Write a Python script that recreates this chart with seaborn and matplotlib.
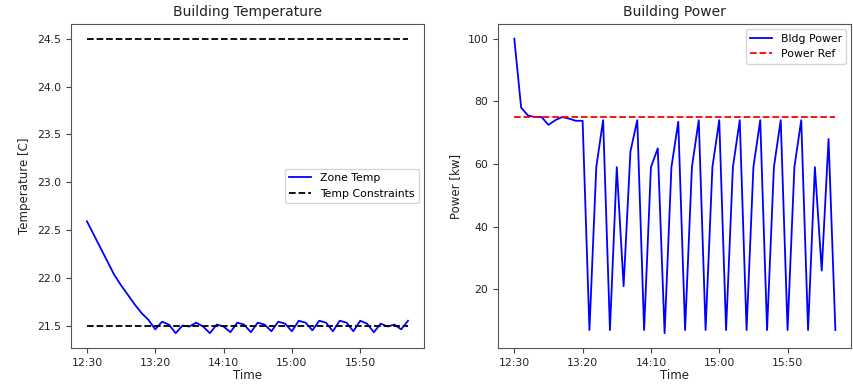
import numpy as np
import pandas as pd
import matplotlib
matplotlib.use('Agg')
import matplotlib.pyplot as plt
import matplotlib.dates as mdates
import seaborn as sns

# 5 minute samples starting at 12:30
times = pd.date_range('2020-01-01 12:30', periods=48, freq='5min')

zone_temp = [22.59, 22.45, 22.31, 22.17, 22.03, 21.92, 21.82, 21.72, 21.63, 21.56,
             21.46, 21.54, 21.51, 21.42, 21.50, 21.49, 21.53, 21.49, 21.42, 21.51,
             21.49, 21.43, 21.53, 21.51, 21.43, 21.53, 21.51, 21.44, 21.54, 21.52,
             21.44, 21.55, 21.53, 21.45, 21.55, 21.53, 21.44, 21.55, 21.53, 21.44,
             21.55, 21.52, 21.43, 21.52, 21.49, 21.51, 21.46, 21.55]
temp_low = 21.5
temp_high = 24.5

bldg_power = [100, 78, 75.5, 75, 75, 72.5, 74, 75, 74.5, 73.8,
              73.8, 7, 59, 74, 7, 59, 21, 64, 74, 7,
              59, 65, 6, 59, 73.5, 7, 59, 74, 7, 59,
              74, 7, 59, 74, 7, 59, 74, 7, 59, 74,
              7, 59, 74, 7, 59, 26, 68, 7]
power_ref = 75

df = pd.DataFrame({'time': times, 'temp': zone_temp, 'power': bldg_power})
df['low'] = temp_low
df['high'] = temp_high
df['ref'] = power_ref

plt.rcParams['font.family'] = ['DejaVu Sans']
fig, (ax1, ax2) = plt.subplots(1, 2, figsize=(8.54, 3.84), dpi=100)
fig.subplots_adjust(left=0.083, right=0.997, bottom=0.094, top=0.9375, wspace=0.21)

sns.lineplot(x='time', y='temp', data=df, ax=ax1, color='b', lw=1.3, label='Zone Temp')
sns.lineplot(x='time', y='low', data=df, ax=ax1, color='k', lw=1.3, ls='--', label='Temp Constraints')
sns.lineplot(x='time', y='high', data=df, ax=ax1, color='k', lw=1.3, ls='--')
ax1.set_title('Building Temperature', fontsize=10, color='#222222')
ax1.set_ylabel('Temperature [C]', fontsize=8.5, color='#222222')
ax1.legend(loc='center right', fontsize=7.8)

sns.lineplot(x='time', y='power', data=df, ax=ax2, color='b', lw=1.3, label='Bldg Power')
sns.lineplot(x='time', y='ref', data=df, ax=ax2, color='r', lw=1.3, ls='--', label='Power Ref')
ax2.set_title('Building Power', fontsize=10, color='#222222')
ax2.set_ylabel('Power [kw]', fontsize=8.5, color='#222222')
ax2.set_yticks([20, 40, 60, 80, 100])
ax2.legend(loc='upper right', fontsize=7.8)

for ax in (ax1, ax2):
    ax.set_xlabel('Time', fontsize=8.5, color='#222222', labelpad=1)
    ax.set_xticks(times[::10])
    ax.xaxis.set_major_formatter(mdates.DateFormatter('%H:%M'))
    ax.tick_params(labelsize=7.8, labelcolor='#222222', color='#444444')
    for s in ax.spines.values():
        s.set_color('#555555')

plt.savefig('out.png', dpi=100)
